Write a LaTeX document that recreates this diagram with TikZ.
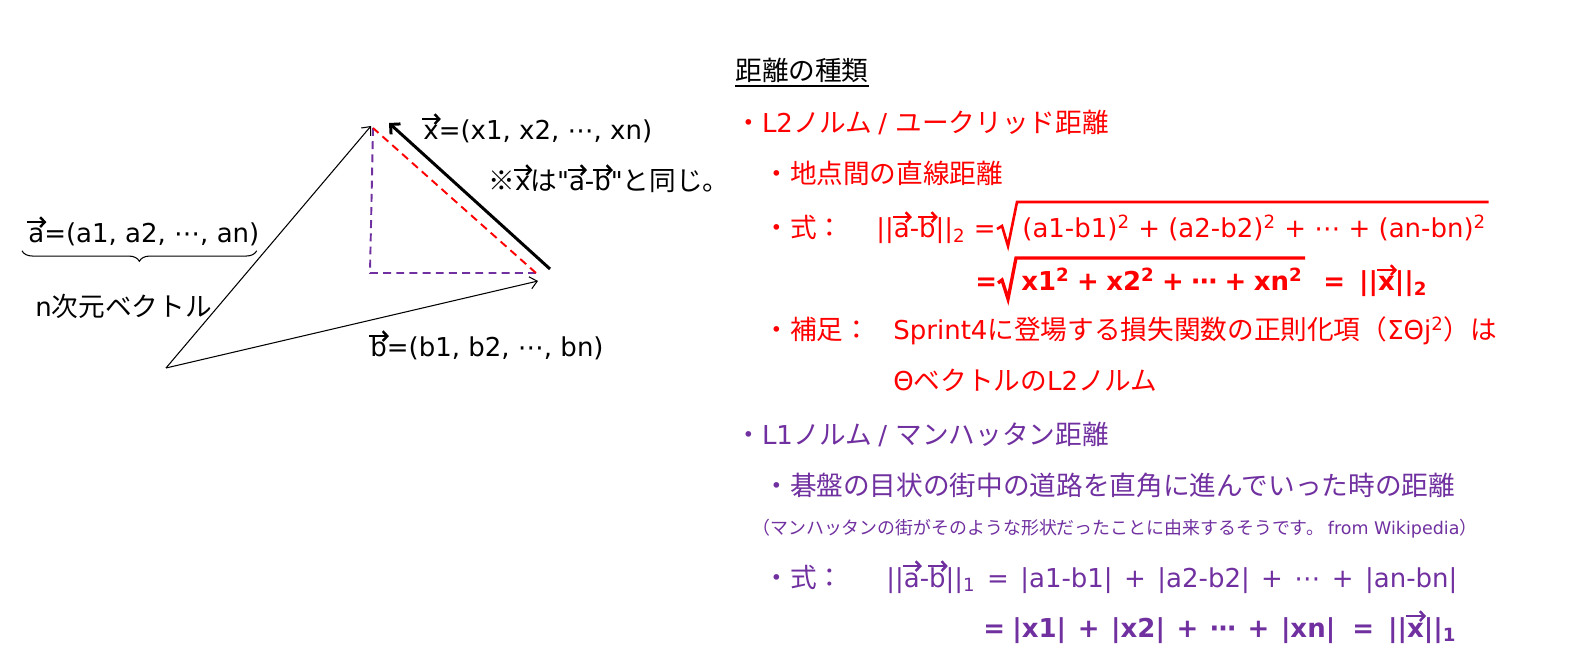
\documentclass[tikz,border=0pt]{standalone}
\usepackage{fontspec}
\newfontfamily\latfont{DejaVu Sans}
\newfontfamily\jpfont{Noto Sans CJK JP}[Scale=1.025]
\usetikzlibrary{arrows.meta,decorations.pathreplacing,calc,positioning}

\definecolor{l2red}{RGB}{255,0,0}
\definecolor{l1purple}{RGB}{112,48,160}

% switch between Latin and Japanese fonts automatically
\XeTeXinterchartokenstate=1
\newXeTeXintercharclass\jpclass
\newcount\jpc
\jpc="3000 \loop\XeTeXcharclass\jpc=\jpclass\advance\jpc by 1 \ifnum\jpc<"A000 \repeat
\jpc="FF00 \loop\XeTeXcharclass\jpc=\jpclass\advance\jpc by 1 \ifnum\jpc<"FFF0 \repeat
\XeTeXcharclass"203B=\jpclass
\XeTeXinterchartoks 0 \jpclass = {\jpfont}
\XeTeXinterchartoks 4095 \jpclass = {\jpfont}
\XeTeXinterchartoks \jpclass 0 = {\latfont}
\XeTeXinterchartoks 4095 0 = {\latfont}

\newcommand\bodysize{\fontsize{14.8}{17}\selectfont}
\newcommand\notesize{\fontsize{9.95}{12}\selectfont}
\newcommand\setwordsp[1]{\spaceskip=#1\relax}
% arrow over a letter
\newdimen\vvlen
\newcommand\vv[1]{\leavevmode\setbox0\hbox{#1}\vvlen=\wd0\advance\vvlen by 1.2pt%
  \rlap{\tikz[overlay,baseline=0pt]\draw[line width=1.4pt,-{Straight Barb[length=2.6pt,width=5.6pt]}] (-0.6pt,11.9pt) -- (\the\vvlen,11.9pt);}\box0}

\begin{document}
\begin{tikzpicture}[x=0.02cm, y=-0.02cm,
        txt/.style={anchor=base west, inner sep=0pt, font=\bodysize\latfont},
        redtxt/.style={txt, text=l2red},
        purtxt/.style={txt, text=l1purple},
        boldtxt/.style={font={\bodysize\latfont\bfseries\setwordsp{#1}}},
        boldtxt/.default=5.3pt,
        widesp/.style={font={\bodysize\latfont\setwordsp{#1}}},
        vecarrow/.style={draw, line width=0.6pt, -{Straight Barb[length=4pt,width=7pt]}},
        xarrow/.style={draw, line width=1.7pt, -{Straight Barb[length=4pt,width=8pt]}},
        dashline/.style={line width=1.1pt, dash pattern=on 4.5pt off 3pt},
        radical/.style={draw, line width=1.5pt, line join=miter}
    ]
        \useasboundingbox (0,0) rectangle (1578,668);

        % Left: vectors
        \coordinate (O) at (166,368);
        \coordinate (A) at (371,126);
        \coordinate (B) at (538,281);
        \coordinate (xs) at (550,269);
        \coordinate (xe) at (389,123);
        \coordinate (ds) at (536,273);
        \coordinate (de) at (373,128);
        \coordinate (corner) at (370,273);

        \draw[vecarrow] (O) -- (A);
        \draw[vecarrow] (O) -- (B);
        \draw[dashline, draw=l1purple] (de) -- (corner) -- (ds);
        \draw[dashline, draw=l2red] (ds) -- (de);
        \draw[xarrow] (xs) -- (xe);

        \node[txt] (xlab) at (423,140) {\vv{x}=(x1, x2, ⋯, xn)};
        \node[txt] (same) at (488,191) {※\vv{x}は"\vv{a}-\vv{b}"と同じ。};
        \node[txt] (alab) at (28,243) {\vv{a}=(a1, a2, ⋯, an)};
        \node[txt] (blab) at (370,357) {\vv{b}=(b1, b2, ⋯, bn)};
        \node[txt] (ndim) at (35,317) {n次元ベクトル};

        \draw[line width=0.6pt, decorate, decoration={brace, mirror, amplitude=6pt}]
            ($(alab.south west)+(-6,4)$) -- ($(alab.south east)+(-3,4)$);

        % Right: kinds of distance
        \node[txt] (head) at (735,81) {距離の種類};
        \draw[line width=0.6pt] ($(head.base west)+(0,5)$) -- ($(head.base east)+(0,5)$);

        % L2
        \node[redtxt] (l2) at (735,133) {・L2ノルム / ユークリッド距離};
        \node[redtxt] (l2a) at (763,184) {・地点間の直線距離};
        \node[redtxt] (l2f) at (763,238) {・式：};
        \node[redtxt] (l2lhs) at (876,238) {||\vv{a}-\vv{b}||\textsubscript{2} =};
        \node[redtxt] (l2rad) at (1022,238) {(a1-b1)\textsuperscript{2} + (a2-b2)\textsuperscript{2} + ⋯ + (an-bn)\textsuperscript{2}};
        \draw[radical, l2red] ($(l2rad.base west)+(-25,-9)$) -- ++(5,-3)
            -- ($(l2rad.base west)+(-14,8)$) -- ($(l2rad.base west)+(-5,-36)$)
            -- ($(l2rad.base east)+(2,-36)$);
        \node[redtxt, boldtxt] (l2eq) at (975,291) {=};
        \node[redtxt, boldtxt=4.2pt] (l2rad2) at (1021,291) {x1\textsuperscript{2} + x2\textsuperscript{2} + ⋯ + xn\textsuperscript{2}};
        \draw[radical, l2red, line width=1.9pt] ($(l2rad2.base west)+(-23,-8)$) -- ++(4,-3)
            -- ($(l2rad2.base west)+(-13,8)$) -- ($(l2rad2.base west)+(-5,-33)$)
            -- ($(l2rad2.base east)+(2,-33)$);
        \node[redtxt, boldtxt=8pt] (l2rhs) at (1323,291) {= ||\vv{x}||\textsubscript{2}};
        \node[redtxt] (l2b) at (763,340) {・補足：};
        \node[redtxt] (l2c) at (893,340) {Sprint4に登場する損失関数の正則化項（ΣΘj\textsuperscript{2}）は};
        \node[redtxt] (l2d) at (893,391) {ΘベクトルのL2ノルム};

        % L1
        \node[purtxt] (l1) at (735,445) {・L1ノルム / マンハッタン距離};
        \node[purtxt] (l1a) at (763,496) {・碁盤の目状の街中の道路を直角に進んでいった時の距離};
        \node[purtxt, font=\notesize\latfont] (l1note) at (752,534) {（マンハッタンの街がそのような形状だったことに由来するそうです。 from Wikipedia）};
        \node[purtxt] (l1f) at (763,587) {・式：};
        \node[purtxt, widesp=6.5pt] (l1lhs) at (886,587) {||\vv{a}-\vv{b}||\textsubscript{1} = |a1-b1| + |a2-b2| + ⋯ + |an-bn|};
        \node[purtxt, boldtxt] (l1eq) at (983,637) {=};
        \node[purtxt, boldtxt=6.6pt] (l1sum) at (1012,637) {|x1| + |x2| + ⋯ + |xn|};
        \node[purtxt, boldtxt=8pt] (l1rhs) at (1352,637) {= ||\vv{x}||\textsubscript{1}};
    \end{tikzpicture}
\end{document}
